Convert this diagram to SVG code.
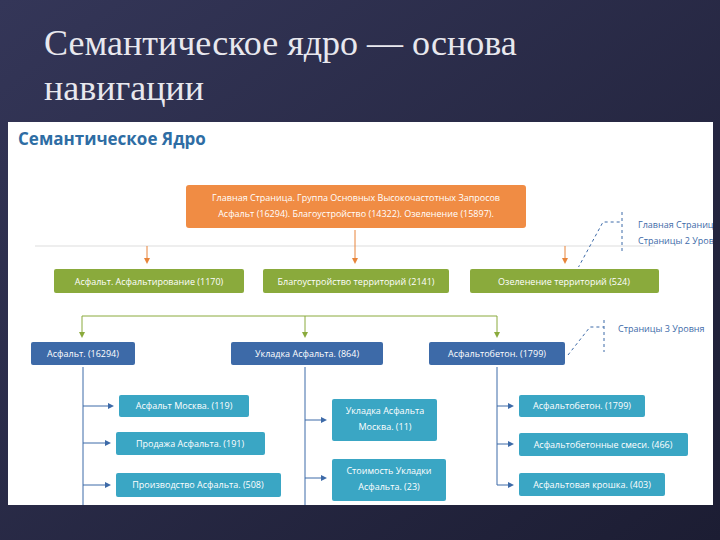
<svg xmlns="http://www.w3.org/2000/svg" width="720" height="540" viewBox="0 0 720 540">
<defs>
<linearGradient id="bg" x1="0" y1="0" x2="1" y2="1"><stop offset="0" stop-color="#343658"/><stop offset="1" stop-color="#1c1d33"/></linearGradient>
<marker id="ao" markerWidth="8" markerHeight="8" refX="4" refY="4" orient="auto"><path d="M0,1 L6,4 L0,7z" fill="#e8843a"/></marker>
<marker id="ag" markerWidth="8" markerHeight="8" refX="4" refY="4" orient="auto"><path d="M0,1 L6,4 L0,7z" fill="#8aaa3c"/></marker>
<marker id="ab" markerWidth="8" markerHeight="8" refX="4" refY="4" orient="auto"><path d="M0,1 L6,4 L0,7z" fill="#3d6aa8"/></marker>
<clipPath id="pc"><rect x="8" y="122" width="705" height="383"/></clipPath>
</defs>
<style>
.t{font-family:"Open Sans","Liberation Sans",sans-serif;font-size:9px;fill:#fff;text-anchor:middle}
.o{fill:#f08c44;stroke:#fff;stroke-width:2}
.g{fill:#8aaa3c;stroke:#fff;stroke-width:2}
.b{fill:#3d6aa8;stroke:#fff;stroke-width:2}
.c{fill:#3aa6c4;stroke:#fff;stroke-width:2}
.n{font-family:"Open Sans","Liberation Sans",sans-serif;font-size:9px;fill:#3d6aa8}
.ao{stroke:#e8843a;marker-end:url(#ao)}
.ag{stroke:#8aaa3c;marker-end:url(#ag)}
.ab{stroke:#3d6aa8;marker-end:url(#ab)}
</style>
<rect width="720" height="540" fill="url(#bg)"/>
<text x="44" y="55" font-family="Liberation Serif,serif" font-size="36" fill="#e8e8ee">Семантическое ядро — основа</text>
<text x="44" y="100" font-family="Liberation Serif,serif" font-size="36" fill="#e8e8ee">навигации</text>
<rect x="8" y="122" width="705" height="383" fill="#fff"/>
<g clip-path="url(#pc)">
<text x="18" y="145" font-family="Open Sans,Liberation Sans,sans-serif" font-size="17" font-weight="bold" fill="#2e6da4">Семантическое Ядро</text>
<g id="connectors" fill="none">
<path d="M35,246 H655" stroke="#ddd"/>
<path class="ao" d="M355,230 V262"/>
<path class="ao" d="M147,246 V262"/>
<path class="ao" d="M565,246 V262"/>
<path d="M82,316 H497" stroke="#8aaa3c"/>
<path class="ag" d="M82,316 V336"/>
<path class="ag" d="M305,316 V336"/>
<path class="ag" d="M497,316 V336"/>
<path d="M83,366 V505 M305,366 V505 M497,366 V485" stroke="#3d6aa8"/>
<path class="ab" d="M83,406 H112"/>
<path class="ab" d="M83,443 H109"/>
<path class="ab" d="M83,485 H109"/>
<path class="ab" d="M305,420 H325"/>
<path class="ab" d="M305,478 H325"/>
<path class="ab" d="M497,406 H512"/>
<path class="ab" d="M497,444 H512"/>
<path class="ab" d="M497,485 H512"/>
<path d="M578,268 L603,222 H622 M622,212 V252 M568,355 L590,327 H604 M604,320 V352" stroke="#3d6aa8" stroke-dasharray="3,3"/>
</g>
<g id="n0"><rect class="o" x="185" y="184" width="342" height="45" rx="4"/><text class="t" x="356" y="201">Главная Страница. Группа Основных Высокочастотных Запросов</text><text class="t" x="356" y="217">Асфальт (16294). Благоустройство (14322). Озеленение (15897).</text></g>
<g id="g1"><rect class="g" x="53" y="268" width="192" height="26" rx="3"/><text class="t" x="149" y="285">Асфальт. Асфальтирование (1170)</text></g>
<g id="g2"><rect class="g" x="262" y="268" width="188" height="26" rx="3"/><text class="t" x="356" y="285">Благоустройство территорий (2141)</text></g>
<g id="g3"><rect class="g" x="469" y="268" width="191" height="26" rx="3"/><text class="t" x="564" y="285">Озеленение территорий (524)</text></g>
<g id="b1"><rect class="b" x="30" y="341" width="106" height="25" rx="3"/><text class="t" x="83" y="357">Асфальт. (16294)</text></g>
<g id="b2"><rect class="b" x="230" y="341" width="154" height="25" rx="3"/><text class="t" x="307" y="357">Укладка Асфальта. (864)</text></g>
<g id="b3"><rect class="b" x="428" y="341" width="138" height="25" rx="3"/><text class="t" x="497" y="357">Асфальтобетон. (1799)</text></g>
<g id="c1"><rect class="c" x="118" y="394" width="132" height="24" rx="3"/><text class="t" x="184" y="409">Асфальт Москва. (119)</text></g>
<g id="c2"><rect class="c" x="115" y="431" width="151" height="25" rx="3"/><text class="t" x="190" y="447">Продажа Асфальта. (191)</text></g>
<g id="c3"><rect class="c" x="115" y="472" width="167" height="26" rx="3"/><text class="t" x="198" y="488">Производство Асфальта. (508)</text></g>
<g id="c4"><rect class="c" x="331" y="398" width="107" height="44" rx="3"/><text class="t" x="385" y="414">Укладка Асфальта</text><text class="t" x="385" y="430">Москва. (11)</text></g>
<g id="c5"><rect class="c" x="331" y="458" width="116" height="44" rx="3"/><text class="t" x="389" y="474">Стоимость Укладки</text><text class="t" x="389" y="490">Асфальта. (23)</text></g>
<g id="c6"><rect class="c" x="518" y="394" width="128" height="24" rx="3"/><text class="t" x="582" y="409">Асфальтобетон. (1799)</text></g>
<g id="c7"><rect class="c" x="518" y="432" width="171" height="25" rx="3"/><text class="t" x="603" y="448">Асфальтобетонные смеси. (466)</text></g>
<g id="c8"><rect class="c" x="518" y="472" width="148" height="25" rx="3"/><text class="t" x="592" y="488">Асфальтовая крошка. (403)</text></g>
<g id="notes"><text class="n" x="638" y="228">Главная Страница</text><text class="n" x="638" y="244">Страницы 2 Уровня</text><text class="n" x="618" y="332">Страницы 3 Уровня</text></g>
</g>
</svg>
